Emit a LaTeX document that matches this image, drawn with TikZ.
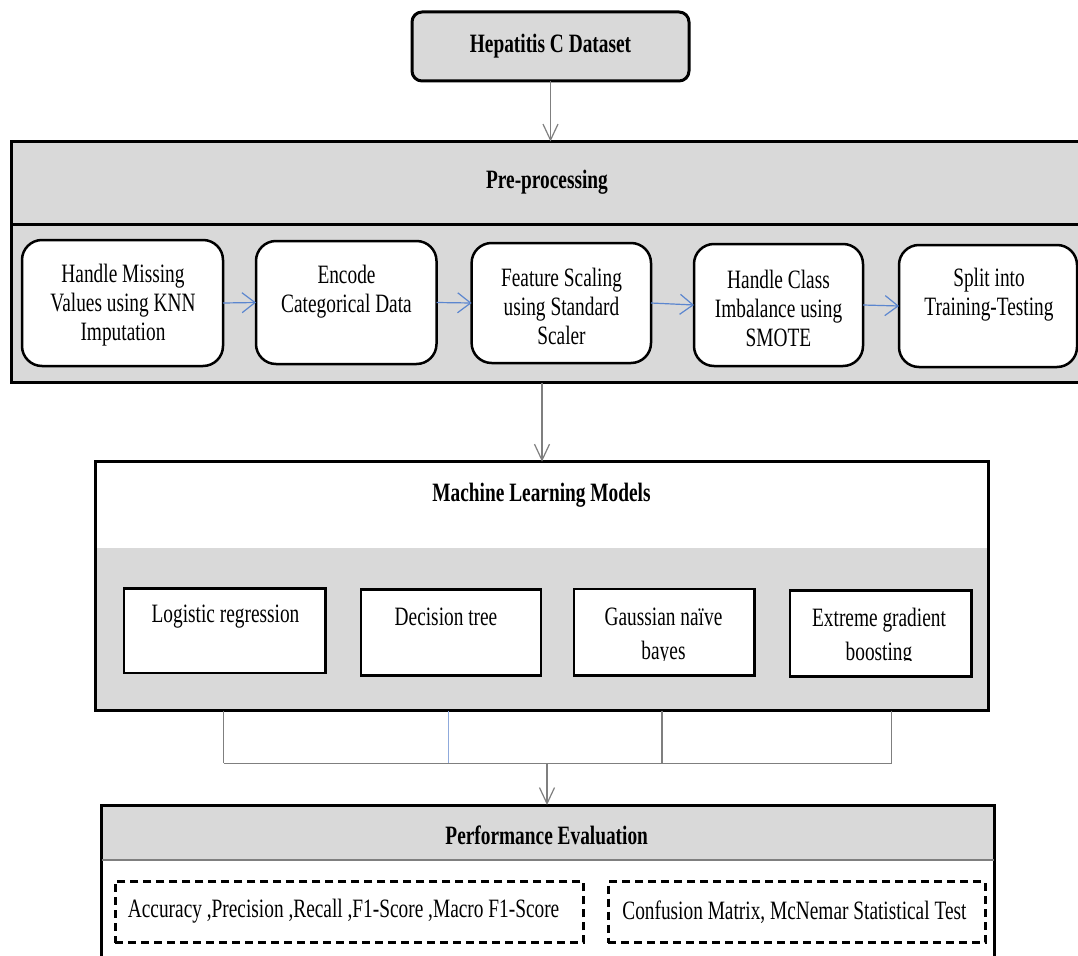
\documentclass[tikz,border=0pt]{standalone}
\usepackage{fontspec}
\setmainfont{Liberation Serif}[FakeStretch=0.73]
\usetikzlibrary{arrows.meta,calc}
\definecolor{boxgray}{HTML}{D9D9D9}
\definecolor{linegray}{HTML}{7F7F7F}
\definecolor{arrowblue}{HTML}{5B86CF}
\definecolor{lineblue}{HTML}{8FAADC}
\begin{document}
\begin{tikzpicture}[x=1pt,y=-1pt,
  every node/.style={inner sep=0pt, outer sep=0pt},
  txt/.style={align=center, font=\fontsize{26.5}{29}\selectfont},
  mltxt/.style={align=center, font=\fontsize{26.5}{34}\selectfont},
  head/.style={font=\fontsize{26.5}{29}\selectfont\bfseries},
  stepbox/.style={draw=black, line width=2.5pt, fill=white, rounded corners=20pt, rectangle},
  modelbox/.style={draw=black, line width=2.5pt, fill=white, rectangle},
  dashbox/.style={draw=black, line width=3pt, dash pattern=on 8pt off 5pt, rectangle},
  conn/.style={draw=linegray, line width=1.2pt},
  flow/.style={draw=linegray, line width=1.2pt, -{Straight Barb[length=16pt,width=15pt]}},
  blueflow/.style={draw=arrowblue, line width=1.2pt, -{Straight Barb[length=13pt,width=20pt]}},
  ]
\useasboundingbox (0,0) rectangle (1078,955);
\fill[white] (0,0) rectangle (1078,955);

% Dataset
\node[draw=black, line width=3pt, rounded corners=10pt, fill=boxgray, minimum width=277pt, minimum height=69pt, head] (hep) at (550.5,46.5) {Hepatitis C Dataset};

% Pre-processing
\node[draw=black, line width=3pt, fill=boxgray, minimum width=1083.5pt, minimum height=241pt] (pre) at (553.25,262) {};
\draw[line width=3pt] (pre.west |- 0,224.5) -- (pre.east |- 0,224.5);
\node[head] (pretitle) at (547,182) {Pre-processing};

\node[stepbox, minimum width=201pt, minimum height=126pt] (s1) at (122.5,303) {};
\node[txt] (t1) at (123,305) {Handle Missing\\Values using KNN\\Imputation};
\node[stepbox, minimum width=180.5pt, minimum height=123pt] (s2) at (346.25,302.5) {};
\node[txt] (t2) at (346.5,291.5) {Encode\\Categorical Data};
\node[stepbox, minimum width=179.4pt, minimum height=120pt] (s3) at (561.3,303) {};
\node[txt] (t3) at (561.5,306) {Feature Scaling\\using Standard\\Scaler};
\node[stepbox, minimum width=169pt, minimum height=122pt] (s4) at (778.5,305) {};
\node[txt] (t4) at (778.5,308) {Handle Class\\Imbalance using\\SMOTE};
\node[stepbox, minimum width=178pt, minimum height=122pt] (s5) at (988,306) {};
\node[txt] (t5) at (989,295) {Split into\\Training-Testing};

\draw[blueflow] (s1.east) -- (s2.west);
\draw[blueflow] (s2.east) -- (s3.west);
\draw[blueflow] (s3.east) -- (s4.west);
\draw[blueflow] (s4.east) -- (s5.west);

\draw[flow] (hep.south) -- (hep.south |- pre.north);

% Machine learning models
\fill[boxgray] (95,461.6) rectangle (988.3,710.6);
\fill[white] (95,461.6) rectangle (988.3,548);
\node[draw=black, line width=3pt, minimum width=893.3pt, minimum height=249pt] (ml) at (541.65,586.1) {};
\node[head] (mltitle) at (541.5,495) {Machine Learning Models};

\draw[flow] (pre.south -| 542,0) -- (ml.north -| 542,0);

\node[modelbox, minimum width=201.5pt, minimum height=84.5pt] (lr) at (224.75,630.75) {};
\node[txt] (lrt) at (225.5,617) {Logistic regression};
\node[modelbox, minimum width=180pt, minimum height=85.8pt] (dt) at (451,632.4) {};
\node[txt] (dtt) at (446,617) {Decision tree};
\node[modelbox, minimum width=180.5pt, minimum height=86.5pt] (gnb) at (664.25,632.25) {};
\node[modelbox, minimum width=181.5pt, minimum height=86.2pt] (xgb) at (880.75,633.6) {};
\begin{scope}
\clip (574,589) rectangle (971,660);
\node[mltxt] (gnbt) at (663.5,636.4) {Gaussian naïve\\bayes};
\node[mltxt] (xgbt) at (879,637) {Extreme gradient\\boosting};
\end{scope}

% merge connectors
\coordinate (m1) at (223.6,763.3);
\coordinate (m2) at (448.5,763.3);
\coordinate (m3) at (662,763.3);
\coordinate (m4) at (891.5,763.3);
\coordinate (mc) at (547,763.3);
\draw[conn] (m1 |- ml.south) -- (m1);
\draw[draw=lineblue, line width=1.2pt] (m2 |- ml.south) -- (m2);
\draw[conn] (m3 |- ml.south) -- (m3);
\draw[conn] (m4 |- ml.south) -- (m4);
\draw[conn] (m1) -- (m4);

% Performance evaluation
\fill[boxgray] (101.7,805) rectangle (994.3,860);
\node[draw=black, line width=3pt, minimum width=892.6pt, minimum height=165pt] (perf) at (548,887.5) {};
\draw[linegray, line width=1.5pt] (perf.west |- 0,860) -- (perf.east |- 0,860);
\node[head] (perftitle) at (546.7,835) {Performance Evaluation};

\draw[flow] (mc) -- (mc |- perf.north);

\node[dashbox, minimum width=468.7pt, minimum height=61pt] (d1) at (349.35,912.2) {};
\node[txt] (d1t) at (343.6,911) {Accuracy ,Precision ,Recall ,F1-Score ,Macro F1-Score};
\node[dashbox, minimum width=377pt, minimum height=61pt] (d2) at (796.5,912.2) {};
\node[txt] (d2t) at (794.4,911.7) {Confusion Matrix, McNemar Statistical Test};
\end{tikzpicture}
\end{document}
